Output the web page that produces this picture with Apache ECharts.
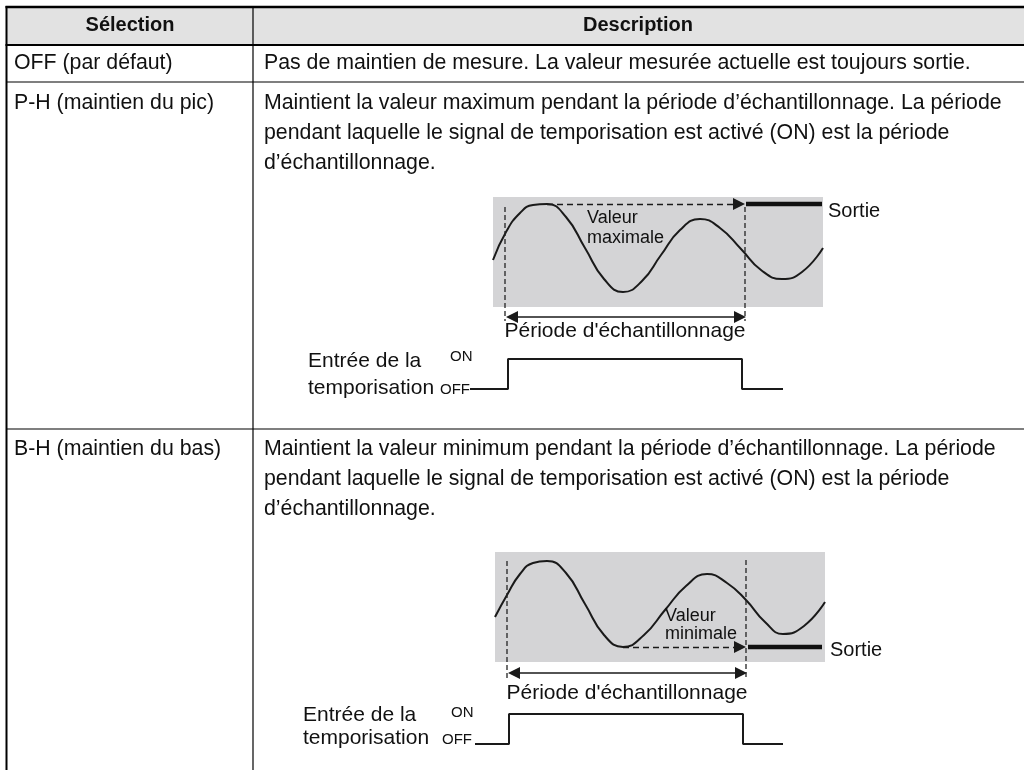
<!DOCTYPE html>
<html><head><meta charset="utf-8">
<script src="https://cdn.jsdelivr.net/npm/echarts/dist/echarts.min.js"></script>
<style>html,body{margin:0;padding:0;background:#fff}#c{width:1024px;height:770px}</style>
</head><body><div id="c"></div>
<script>
// ---------- table content ----------
const headers = ['Sélection', 'Description'];
const selections = ['OFF (par défaut)', 'P-H (maintien du pic)', 'B-H (maintien du bas)'];
const descriptions = [
  ['Pas de maintien de mesure. La valeur mesurée actuelle est toujours sortie.'],
  ['Maintient la valeur maximum pendant la période d’échantillonnage. La période',
   'pendant laquelle le signal de temporisation est activé (ON) est la période',
   'd’échantillonnage.'],
  ['Maintient la valeur minimum pendant la période d’échantillonnage. La période',
   'pendant laquelle le signal de temporisation est activé (ON) est la période',
   'd’échantillonnage.']
];
const outLabel = 'Sortie';
const periodLabel = "Période d'échantillonnage";
const timingLabel = ['Entrée de la', 'temporisation'];
const stateLabels = ['ON', 'OFF'];
const holdLabels = [['Valeur', 'maximale'], ['Valeur', 'minimale']];

// ---------- diagram 1 (peak hold) ----------
const peakArea = [[0, 0, 33, 11]];
const peakWave = [[0, 4.7], [1.3, 7.5], [2.7, 9.4], [4.0, 10.2], [5.4, 10.3], [7.3, 9.0], [9.2, 5.9], [11.1, 2.8],
  [13.0, 1.5], [14.9, 2.6], [16.8, 5.2], [18.7, 7.7], [20.7, 8.8], [22.7, 7.9], [24.8, 5.8], [26.8, 3.7],
  [28.9, 2.8], [30.9, 3.5], [33, 5.9]];
const peakHold = [[5.4, 10.3], [24.6, 10.3]];
const peakOutput = [[25.3, 10.3], [32.9, 10.3]];
const peakMarkers = [[[1.2, 10.0], [1.2, -1.4]], [[25.2, 10.0], [25.2, -1.4]]];
const peakPeriod = [[1.9, -1.0], [24.7, -1.0]];
const peakTiming = [[-2.3, -8.2], [1.5, -8.2], [1.5, -5.2], [24.9, -5.2], [24.9, -8.2], [29.0, -8.2]];

// ---------- diagram 2 (bottom hold) ----------
const bottomArea = [[0, 0, 33, 11]];
const bottomWave = [[0, 4.5], [1.2, 6.7], [2.5, 8.8], [3.8, 9.9], [5.2, 10.1], [7.1, 8.9], [9.0, 5.8], [10.9, 2.7],
  [12.8, 1.5], [14.9, 2.7], [17.0, 5.2], [19.1, 7.6], [21.2, 8.8], [23.2, 7.9], [25.1, 6.2], [27.0, 4.0],
  [28.8, 2.8], [30.9, 3.6], [33, 6.0]];
const bottomHold = [[12.8, 1.5], [24.5, 1.5]];
const bottomOutput = [[25.3, 1.5], [32.7, 1.5]];
const bottomMarkers = [[[1.2, 10.1], [1.2, -1.8]], [[25.1, 10.2], [25.1, -1.8]]];
const bottomPeriod = [[1.9, -1.1], [24.6, -1.1]];
const bottomTiming = [[-2.0, -8.2], [1.4, -8.2], [1.4, -5.2], [24.8, -5.2], [24.8, -8.2], [28.8, -8.2]];

const FONT = '"Liberation Sans", Arial, Helvetica, sans-serif';
const INK = '#1a1a1a';
const BODY = 21.3;

function diagramSeries(g, area, wave, hold, output, markers, period, timing) {
  const s = [];
  s.push({
    type: 'custom', xAxisIndex: g, yAxisIndex: g, z: 1, silent: true,
    data: area,
    renderItem: function (params, api) {
      const p0 = api.coord([api.value(0), api.value(3)]);
      const p1 = api.coord([api.value(2), api.value(1)]);
      return { type: 'rect', shape: { x: p0[0], y: p0[1], width: p1[0] - p0[0], height: p1[1] - p0[1] }, style: { fill: '#d4d4d6' } };
    }
  });
  s.push({ type: 'line', xAxisIndex: g, yAxisIndex: g, data: wave, smooth: true, showSymbol: false, z: 3,
    lineStyle: { color: INK, width: 2 } });
  markers.forEach(m => s.push({ type: 'line', xAxisIndex: g, yAxisIndex: g, data: m, showSymbol: false, z: 3,
    lineStyle: { color: '#222', width: 1.3, type: [5, 3] } }));
  s.push({ type: 'lines', coordinateSystem: 'cartesian2d', xAxisIndex: g, yAxisIndex: g, z: 4,
    symbol: ['none', 'triangle'], symbolSize: 12,
    lineStyle: { color: INK, width: 1.4, type: [6, 4], opacity: 1 },
    data: [{ coords: hold }] });
  s.push({ type: 'line', xAxisIndex: g, yAxisIndex: g, data: output, showSymbol: false, z: 4,
    lineStyle: { color: '#111', width: 4.5 } });
  s.push({ type: 'lines', coordinateSystem: 'cartesian2d', xAxisIndex: g, yAxisIndex: g, z: 4,
    symbol: ['triangle', 'triangle'], symbolSize: 12,
    lineStyle: { color: INK, width: 1.7, opacity: 1 },
    data: [{ coords: period }] });
  s.push({ type: 'line', xAxisIndex: g, yAxisIndex: g, data: timing, showSymbol: false, z: 3,
    lineStyle: { color: INK, width: 2 } });
  return s;
}

function txt(x, y, text, size, opts) {
  return Object.assign({ type: 'text', x: x, y: y, z: 10, silent: true,
    style: Object.assign({ text: text, fill: '#111', fontSize: size, fontFamily: FONT, align: 'left', verticalAlign: 'middle' }, opts || {}) });
}
function ln(x1, y1, x2, y2, w) {
  return { type: 'line', z: 5, silent: true, shape: { x1: x1, y1: y1, x2: x2, y2: y2 }, style: { stroke: '#000', lineWidth: w } };
}

const graphic = [
  { type: 'rect', z: 0, silent: true, shape: { x: 7, y: 7, width: 1017, height: 38 }, style: { fill: '#e2e2e2' } },
  ln(5.5, 7, 1024, 7, 2.5),
  ln(5.5, 45, 1024, 45, 2),
  ln(7, 82, 1024, 82, 1.2),
  ln(7, 429, 1024, 429, 1.2),
  ln(6.5, 6, 6.5, 770, 2),
  ln(253, 7, 253, 770, 1.2),
  txt(130, 25, headers[0], 20, { fontWeight: 'bold', align: 'center' }),
  txt(638, 25, headers[1], 20, { fontWeight: 'bold', align: 'center' }),
  txt(14, 63, selections[0], BODY),
  txt(14, 103, selections[1], BODY),
  txt(14, 449, selections[2], BODY)
];
descriptions[0].forEach((t, i) => graphic.push(txt(264, 63 + i * 30, t, BODY)));
descriptions[1].forEach((t, i) => graphic.push(txt(264, 103 + i * 30, t, BODY)));
descriptions[2].forEach((t, i) => graphic.push(txt(264, 449 + i * 30, t, BODY)));
// diagram 1 labels
graphic.push(txt(587, 218, holdLabels[0][0], 18));
graphic.push(txt(587, 238, holdLabels[0][1], 18));
graphic.push(txt(828, 211, outLabel, 20));
graphic.push(txt(625, 331, periodLabel, 21, { align: 'center' }));
graphic.push(txt(308, 361, timingLabel[0], 21));
graphic.push(txt(308, 388, timingLabel[1], 21));
graphic.push(txt(450, 357, stateLabels[0], 15));
graphic.push(txt(440, 390, stateLabels[1], 15));
// diagram 2 labels
graphic.push(txt(665, 616, holdLabels[1][0], 18));
graphic.push(txt(665, 634, holdLabels[1][1], 18));
graphic.push(txt(830, 650, outLabel, 20));
graphic.push(txt(627, 693, periodLabel, 21, { align: 'center' }));
graphic.push(txt(303, 715, timingLabel[0], 21));
graphic.push(txt(303, 738, timingLabel[1], 21));
graphic.push(txt(451, 713, stateLabels[0], 15));
graphic.push(txt(442, 740, stateLabels[1], 15));

const hiddenX = (g) => ({ type: 'value', gridIndex: g, min: -5, max: 33, show: false });
const hiddenY = (g) => ({ type: 'value', gridIndex: g, min: -9, max: 11, show: false });

const option = {
  animation: false,
  backgroundColor: '#fff',
  grid: [
    { left: 443, top: 197, width: 380, height: 200 },
    { left: 445, top: 552, width: 380, height: 200 }
  ],
  xAxis: [hiddenX(0), hiddenX(1)],
  yAxis: [hiddenY(0), hiddenY(1)],
  graphic: graphic,
  series: [].concat(
    diagramSeries(0, peakArea, peakWave, peakHold, peakOutput, peakMarkers, peakPeriod, peakTiming),
    diagramSeries(1, bottomArea, bottomWave, bottomHold, bottomOutput, bottomMarkers, bottomPeriod, bottomTiming)
  )
};
const chart = echarts.init(document.getElementById('c'), null, { renderer: 'canvas' });
chart.setOption(option);
</script>
</body></html>
